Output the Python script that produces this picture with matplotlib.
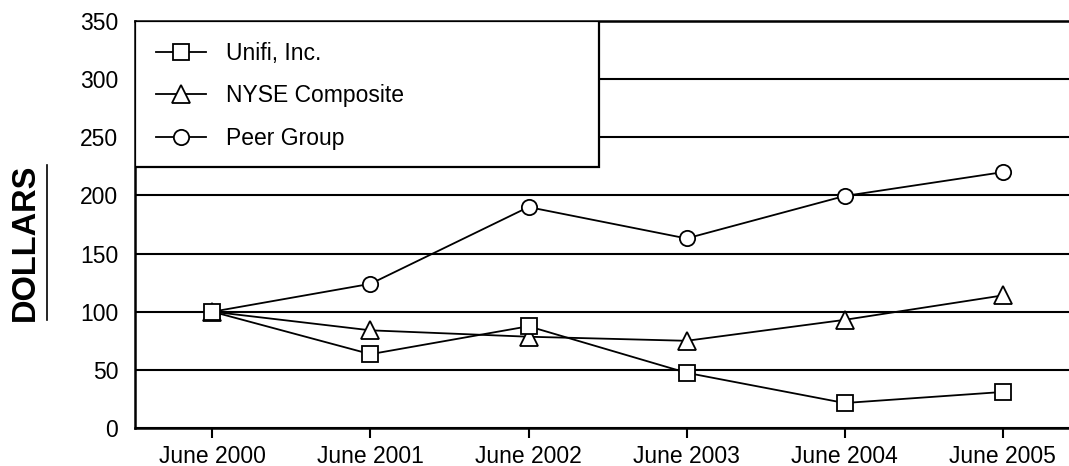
import matplotlib.pyplot as plt
from matplotlib.patches import Rectangle

plt.rcParams['font.family'] = ['Liberation Sans', 'DejaVu Sans']

# chart data
years = ["June 2000", "June 2001", "June 2002", "June 2003", "June 2004", "June 2005"]
unifi = [100, 63.5, 87.5, 47.5, 21.5, 31]
nyse = [100, 84, 78.5, 75, 93, 114]
peer = [100, 124, 190, 163, 199.5, 220]

fig = plt.figure(figsize=(10.69, 4.66), dpi=100)
ax = fig.add_axes([0.1263, 0.0815, 0.8737, 0.8735])

x = range(len(years))
style = dict(color='black', lw=1.3, markerfacecolor='white',
             markeredgecolor='black', markeredgewidth=1.3, zorder=4)
ax.plot(x, peer, marker='o', markersize=11, label='Peer Group', **style)
ax.plot(x, nyse, marker='^', markersize=13, label='NYSE Composite', **style)
ax.plot(x, unifi, marker='s', markersize=11, label='Unifi, Inc.', **style)

ax.set_xlim(-0.49, 5.42)
ax.set_ylim(0, 350)
ax.set_yticks(range(0, 351, 50))
ax.set_xticks(list(x))
ax.set_xticklabels(years)
ax.yaxis.grid(True, color='black', lw=1.5)
ax.set_axisbelow(True)
ax.tick_params(axis='y', length=0, pad=12, labelsize=16.5)
ax.tick_params(axis='x', length=7, width=1.5, pad=5, labelsize=16.5, direction='out')
for s in ['top', 'left', 'bottom']:
    ax.spines[s].set_linewidth(1.8)
ax.spines['right'].set_visible(False)

# legend box covering the upper grid lines
ax.add_patch(Rectangle((0, 0.641), 0.497, 0.359, transform=ax.transAxes,
                       facecolor='white', edgecolor='black', lw=1.6, zorder=3))
h, l = ax.get_legend_handles_labels()
leg = ax.legend(h[::-1], l[::-1], loc='upper left', bbox_to_anchor=(0.0, 1.0),
                frameon=False, fontsize=16.5, handlelength=2.2, handletextpad=0.85,
                labelspacing=0.85, borderaxespad=0.5)
leg.set_zorder(5)

fig.text(0.0234, 0.48, 'DOLLARS', rotation=90, ha='center', va='center',
         fontsize=23.5, fontweight='bold')
fig.add_artist(plt.Line2D([0.044, 0.044], [0.313, 0.646], color='black', lw=1.2))

fig.savefig('out.png', dpi=100)
